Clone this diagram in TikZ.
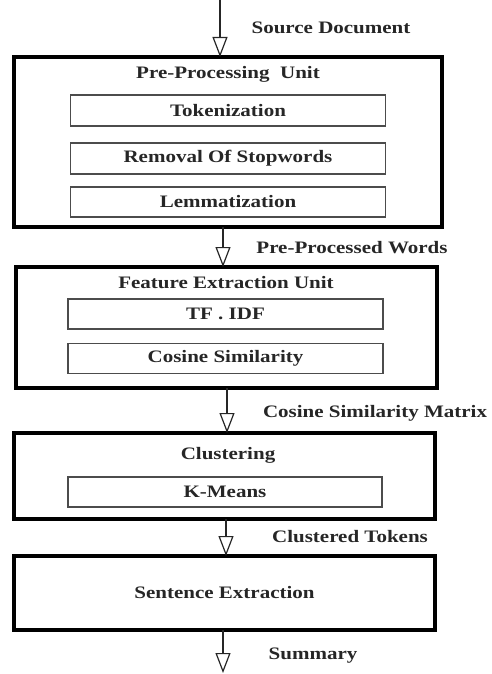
\documentclass[tikz,border=0pt]{standalone}
\usepackage{fontspec}
\setmainfont{Liberation Serif}[FakeStretch=1.2]
\usetikzlibrary{arrows.meta}
\begin{document}
\begin{tikzpicture}[x=1pt,y=-1pt,
  every node/.style={font=\fontsize{17.5}{20}\selectfont\bfseries, text=black!85, inner sep=0pt, outer sep=0pt},
  outerbox/.style={draw=black, line width=4pt, rectangle, minimum width=#1},
  innerbox/.style={draw=black!70, line width=1.4pt, rectangle, minimum width=315pt, minimum height=30pt},
  flow/.style={line width=2.4pt, black!85, -{Triangle[open, length=20pt, width=15pt, line width=1.2pt]}},
  lbl/.style={anchor=center}
]
\useasboundingbox (0,0) rectangle (492,674);
% outer boxes
\node[outerbox=428pt, minimum height=170pt] (pp) at (228,142) {};
\node[outerbox=421pt, minimum height=121pt] (fe) at (226.5,327.5) {};
\node[outerbox=421pt, minimum height=86pt] (cl) at (224.5,476) {};
\node[outerbox=421pt, minimum height=74pt] (se) at (224.5,593) {Sentence Extraction};
% titles
\node[lbl] (ppt) at (228,74) {Pre-Processing\ \ Unit};
\node[lbl] (fet) at (226,283) {Feature Extraction Unit};
\node[lbl] (clt) at (228,455) {Clustering};
% inner boxes
\node[innerbox, minimum height=31pt] (tok) at (228,110.5) {Tokenization};
\node[innerbox, minimum height=31pt] (rem) at (228,158.5) {Removal Of Stopwords};
\node[innerbox] (lem) at (228,202) {Lemmatization};
\node[innerbox] (tf) at (225.5,314) {TF . IDF};
\node[innerbox] (cs) at (225.5,358.5) {Cosine Similarity};
\node[innerbox, minimum width=314pt] (km) at (225,492) {K-Means};
% arrows
\coordinate (in) at (220,0);
\coordinate (out) at (223,673);
\draw[flow] (in) -- (in |- pp.north);
\draw[flow] ([xshift=-5pt]pp.south) -- ([xshift=-5pt]pp.south |- fe.north);
\draw[flow] ([xshift=0.5pt]fe.south) -- ([xshift=0.5pt]fe.south |- cl.north);
\draw[flow] ([xshift=1.5pt]cl.south) -- ([xshift=1.5pt]cl.south |- se.north);
\draw[flow] (se.south -| out) -- (out);
% flow labels
\node[lbl] (l1) at (331,28) {Source Document};
\node[lbl] (l2) at (352,248) {Pre-Processed Words};
\node[lbl] (l3) at (375,413) {Cosine Similarity Matrix};
\node[lbl] (l4) at (350,537) {Clustered Tokens};
\node[lbl] (l5) at (313,656) {Summary};
\end{tikzpicture}
\end{document}
